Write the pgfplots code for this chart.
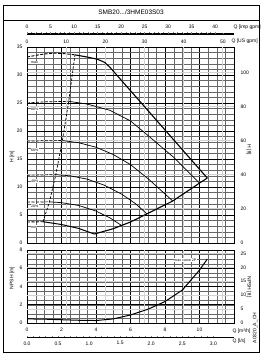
\documentclass[border=0pt]{standalone}
\usepackage{pgfplots}
\pgfplotsset{compat=1.18}
\usepackage{fontspec}
\setmainfont{Liberation Sans}
\newcommand\tf{\fontsize{5}{6}\selectfont}
\newcommand\smallf{\fontsize{3.6}{4}\selectfont}

\pgfplotstableread{
x y
0 33.2
0.5 33.5
1.0 33.75
1.6 33.9
2.2 33.8
2.78 33.6
}\maxdash
\pgfplotstableread{
x y
2.78 33.6
3.5 33.2
4.1 32.8
4.5 32.25
4.8 31.4
10.45 11.6
}\maxsolid
\pgfplotstableread{
x y
0 25.0
1.0 25.2
2.42 25.3
}\eightydash
\pgfplotstableread{
x y
2.42 25.3
3.5 24.8
4.8 23.7
6.0 21.8
7.05 19.1
8.5 15.3
10.0 10.7
}\eighty
\pgfplotstableread{
x y
0 18.2
2.05 18.3
}\sixtydash
\pgfplotstableread{
x y
2.05 18.3
3.0 17.9
4.0 17.1
5.0 15.8
6.0 14.0
7.05 11.4
8.45 7.5
}\sixty
\pgfplotstableread{
x y
0 12.1
1.67 12.2
}\fortydash
\pgfplotstableread{
x y
1.67 12.2
2.5 12.0
3.5 11.4
4.5 10.3
5.5 8.7
6.3 7.0
6.95 5.2
}\forty
\pgfplotstableread{
x y
0 7.3
1.30 7.35
}\twentydash
\pgfplotstableread{
x y
1.30 7.35
2.0 7.2
3.0 6.7
4.0 5.7
4.8 4.5
5.45 3.2
}\twenty
\pgfplotstableread{
x y
0 3.75
0.93 3.8
}\mindash
\pgfplotstableread{
x y
0.93 3.8
2.0 3.3
3.0 2.6
3.9 1.6
}\minsolid
\pgfplotstableread{
x y
3.9 1.6
5.0 2.55
5.45 3.1
6.0 3.75
6.95 5.2
8.45 7.5
10.0 10.7
10.45 11.6
}\boundary
\pgfplotstableread{
x y
0.93 3.8
1.30 7.35
1.67 12.2
2.05 18.3
2.42 25.3
2.78 33.6
}\minflow
\pgfplotstableread{
x y
0 0.45
1 0.42
2 0.36
3 0.30
4 0.27
5 0.45
6 0.88
7 1.5
8 2.35
9 3.6
10 5.8
10.45 7.0
}\npsh

\pgfplotsset{
  every axis/.append style={scale only axis, font=\tf,
    /pgf/number format/assume math mode=true},
  gridax/.style={
    width=207pt, xmin=0, xmax=12,
    xtick={0,2,...,12}, minor xtick={0,0.5,...,12},
    grid=both,
    major grid style={black, line width=0.55pt},
    minor grid style={black!60, line width=0.25pt},
    tick style={draw=none},
    axis line style={line width=0.8pt},
    extra x ticks={2.2712,4.5425,6.8137,9.0850,11.3562},
    extra x tick labels={},
    extra x tick style={grid=major, major grid style={gray!35, line width=1.1pt}},
  },
}

\begin{document}
\begin{tikzpicture}
\path[use as bounding box] (0pt,0pt) rectangle (279pt,363pt);
\draw[line width=0.8pt] (3pt,11pt) rectangle (259pt,358pt);
\draw[line width=0.8pt] (3pt,343pt) -- (259pt,343pt);
\node[font=\fontsize{6.5}{7}\selectfont] at (131pt,350.5pt) {SMB20.../3HME03S03};

% ---------- main H-Q axis ----------
\begin{axis}[gridax, at={(27pt,120pt)}, anchor=south west, height=196pt,
  ymin=0, ymax=35, ytick={0,5,...,35}, minor ytick={0,1,...,35},
  xticklabels={},
  extra y ticks={6.096,12.192,18.288,24.384,30.48}, extra y tick labels={},
  extra y tick style={grid=major, major grid style={gray!35, line width=1.1pt}},
  yticklabel style={xshift=-1pt}]
\addplot[black, line width=0.9pt, dash pattern=on 3pt off 1.5pt] table {\maxdash};
\addplot[black, line width=1.1pt] table {\maxsolid};
\addplot[black, line width=0.7pt, dash pattern=on 3pt off 1.5pt] table {\eightydash};
\addplot[black, line width=0.7pt] table {\eighty};
\addplot[black, line width=0.7pt, dash pattern=on 3pt off 1.5pt] table {\sixtydash};
\addplot[black, line width=0.7pt] table {\sixty};
\addplot[black, line width=0.7pt, dash pattern=on 3pt off 1.5pt] table {\fortydash};
\addplot[black, line width=0.7pt] table {\forty};
\addplot[black, line width=0.7pt, dash pattern=on 3pt off 1.5pt] table {\twentydash};
\addplot[black, line width=0.7pt] table {\twenty};
\addplot[black, line width=0.9pt, dash pattern=on 3pt off 1.5pt] table {\mindash};
\addplot[black, line width=1.0pt] table {\minsolid};
\addplot[black, line width=1.1pt] table {\boundary};
\addplot[black, line width=0.7pt, dash pattern=on 2.5pt off 1.5pt] table {\minflow};
\node[font=\smallf, anchor=west, fill=white, inner sep=0.4pt] at (axis cs:0.2,32.3) {max};
\node[font=\smallf, anchor=west, fill=white, inner sep=0.4pt] at (axis cs:0.2,23.9) {80\%};
\node[font=\smallf, anchor=west, fill=white, inner sep=0.4pt] at (axis cs:0.2,16.6) {60\%};
\node[font=\smallf, anchor=west, fill=white, inner sep=0.4pt] at (axis cs:0.2,11.1) {40\%};
\node[font=\smallf, anchor=west, fill=white, inner sep=0.4pt] at (axis cs:0.2,6.6) {20\%};
\node[font=\smallf, anchor=west, fill=white, inner sep=0.4pt] at (axis cs:0.2,2.9) {min};
\end{axis}
\begin{axis}[at={(27pt,120pt)}, anchor=south west, width=207pt, height=196pt,
  ymin=0, ymax=114.829, ytick={0,20,...,100}, axis y line*=right, hide x axis,
  axis line style={line width=0.8pt}, tick style={draw=none},
  yticklabel style={xshift=3pt}]
\addplot[draw=none] coordinates {(0,0)};
\end{axis}

% ---------- top flow scales ----------
\begin{axis}[at={(27pt,329pt)}, anchor=south west, width=207pt, height=1pt,
  xmin=0, xmax=43.994, ymin=0, ymax=1, hide y axis, axis x line*=top,
  x axis line style={-, line width=0.6pt},
  xtick={0,5,...,40}, minor x tick num=4, tick align=center,
  major tick length=2pt, minor tick length=1.5pt, tick style={line width=0.5pt}]
\addplot[draw=none] coordinates {(0,0)};
\end{axis}
\begin{axis}[at={(27pt,329pt)}, anchor=south west, width=207pt, height=1pt,
  xmin=0, xmax=52.834, ymin=0, ymax=1, hide y axis, axis x line*=bottom,
  x axis line style={-, line width=0.6pt},
  xtick={0,10,...,50}, minor x tick num=4, tick align=center,
  major tick length=2pt, minor tick length=1.5pt, tick style={line width=0.5pt},
  xticklabel style={yshift=-1pt}]
\addplot[draw=none] coordinates {(0,0)};
\end{axis}
\node[font=\tf, anchor=west] at (230pt,336pt) {Q [imp gpm]};
\node[font=\tf, anchor=west] at (228pt,321.5pt) {Q [US gpm]};

\node[font=\tf, rotate=90] at (12pt,206pt) {H [m]};
\node[font=\tf, rotate=-90] at (249pt,213pt) {H [ft]};

% ---------- NPSH axis ----------
\begin{axis}[gridax, at={(27pt,40pt)}, anchor=south west, height=73pt,
  ymin=0, ymax=8, ytick={0,2,...,8}, minor ytick={0,0.5,...,8},
  xticklabels={0,2,4,6,8,10,}, xticklabel style={yshift=-1.5pt},
  extra y ticks={1.524,3.048,4.572,6.096,7.62}, extra y tick labels={},
  extra y tick style={grid=major, major grid style={gray!35, line width=1.1pt}},
  yticklabel style={xshift=-1pt}]
\addplot[black, line width=1.0pt] table {\npsh};
\node[font=\smallf, anchor=east, fill=white, inner sep=0.4pt] at (axis cs:9.85,6.9) {max curve 2P};
\end{axis}
\begin{axis}[at={(27pt,40pt)}, anchor=south west, width=207pt, height=73pt,
  ymin=0, ymax=26.247, ytick={0,5,...,25}, axis y line*=right, hide x axis,
  axis line style={line width=0.8pt}, tick style={draw=none},
  yticklabel style={xshift=3pt}]
\addplot[draw=none] coordinates {(0,0)};
\end{axis}
\node[font=\tf, anchor=west] at (229pt,32pt) {Q [m³/h]};

\begin{axis}[at={(27pt,26pt)}, anchor=south west, width=207pt, height=1pt,
  xmin=0, xmax=3.3333, ymin=0, ymax=1, hide y axis, axis x line*=bottom,
  x axis line style={-, line width=0.6pt},
  xtick={0,0.5,...,3}, minor x tick num=4, tick align=center,
  major tick length=2pt, minor tick length=1.5pt, tick style={line width=0.5pt},
  xticklabel style={/pgf/number format/.cd, fixed, fixed zerofill, precision=1}]
\addplot[draw=none] coordinates {(0,0)};
\end{axis}
\node[font=\tf, anchor=west] at (229pt,21.5pt) {Q [l/s]};

\node[font=\tf, rotate=90] at (12pt,85pt) {NPSH [m]};
\node[font=\tf, rotate=-90] at (249pt,76pt) {NPSH [ft]};
\node[font=\tf, rotate=90] at (255pt,35pt) {A0320\_A\_CH};
\end{tikzpicture}
\end{document}
